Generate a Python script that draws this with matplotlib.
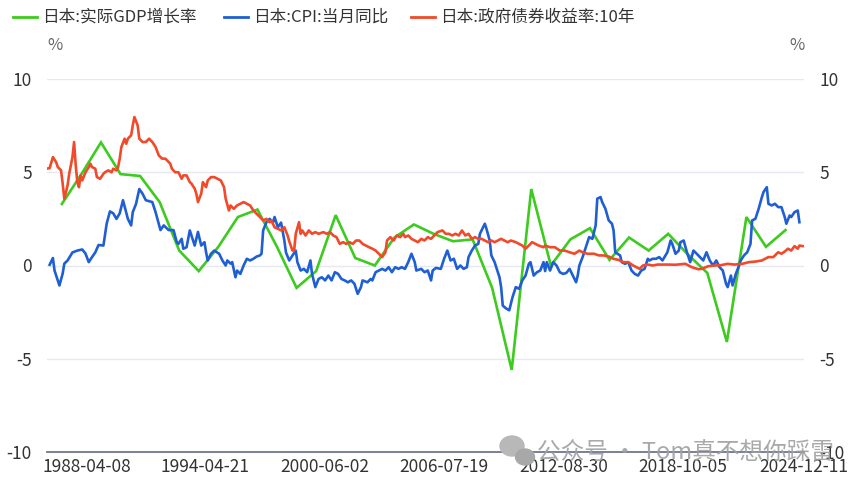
import matplotlib
matplotlib.use("Agg")
import matplotlib.pyplot as plt
from matplotlib.lines import Line2D
from matplotlib.patches import Ellipse
import numpy as np

plt.rcParams['font.family'] = ['Noto Sans CJK SC', 'DejaVu Sans']

# ---------------- data ----------------
legend_labels = ["日本:实际GDP增长率", "日本:CPI:当月同比", "日本:政府债券收益率:10年"]

gdp_years = list(range(1986, 2024))
gdp_vals = [3.3, 4.9, 6.6, 4.9, 4.8, 3.4, 0.8, -0.3, 1.0, 2.6,
            3.0, 1.0, -1.2, -0.3, 2.7, 0.4, 0.0, 1.5, 2.2, 1.7,
            1.3, 1.4, -1.2, -5.6, 4.1, 0.0, 1.4, 2.0, 0.3, 1.5,
            0.8, 1.7, 0.6, -0.4, -4.1, 2.6, 1.0, 1.9]

cpi_dates = [
    "1986-05", "1986-07", "1986-08", "1986-11", "1987-01", "1987-02", "1987-04", "1987-07", "1987-10",
    "1988-01", "1988-03", "1988-05", "1988-07", "1988-09", "1988-11", "1989-02", "1989-04", "1989-06",
    "1989-08", "1989-10", "1989-12", "1990-02", "1990-05", "1990-07", "1990-08", "1990-10", "1990-12",
    "1991-02", "1991-04", "1991-08", "1991-10", "1992-01", "1992-03", "1992-06", "1992-09", "1992-11",
    "1992-12", "1993-02", "1993-03", "1993-05", "1993-07", "1993-09", "1993-10", "1993-12", "1994-02",
    "1994-04", "1994-05", "1994-06", "1994-08", "1994-10", "1995-01", "1995-03", "1995-05", "1995-06",
    "1995-08", "1995-09", "1995-11", "1995-12", "1996-02", "1996-04", "1996-06", "1996-08", "1996-10",
    "1996-12", "1997-02", "1997-03", "1997-04", "1997-06", "1997-08", "1997-10", "1997-11", "1998-01",
    "1998-03", "1998-05", "1998-06", "1998-08", "1998-10", "1998-12", "1999-01", "1999-03", "1999-05",
    "1999-07", "1999-09", "1999-10", "1999-12", "2000-02", "2000-04", "2000-06", "2000-08", "2000-10",
    "2000-12", "2001-02", "2001-04", "2001-06", "2001-08", "2001-10", "2001-12", "2002-02", "2002-04",
    "2002-05", "2002-08", "2002-10", "2002-11", "2003-01", "2003-03", "2003-05", "2003-07", "2003-09",
    "2003-11", "2004-01", "2004-03", "2004-05", "2004-07", "2004-09", "2004-11", "2005-01", "2005-02",
    "2005-05", "2005-07", "2005-09", "2005-11", "2005-12", "2006-02", "2006-05", "2006-07", "2006-09",
    "2006-11", "2007-01", "2007-03", "2007-05", "2007-07", "2007-09", "2007-10", "2007-12", "2008-02",
    "2008-04", "2008-05", "2008-08", "2008-09", "2008-11", "2008-12", "2009-02", "2009-03", "2009-05",
    "2009-06", "2009-07", "2009-09", "2009-11", "2010-01", "2010-03", "2010-05", "2010-07", "2010-09",
    "2010-11", "2010-12", "2011-02", "2011-04", "2011-06", "2011-08", "2011-09", "2011-10", "2011-12",
    "2012-02", "2012-04", "2012-06", "2012-08", "2012-10", "2012-12", "2013-02", "2013-04", "2013-05",
    "2013-06", "2013-08", "2013-10", "2013-12", "2014-02", "2014-04", "2014-05", "2014-07", "2014-08",
    "2014-10", "2014-12", "2015-02", "2015-03", "2015-04", "2015-07", "2015-08", "2015-10", "2015-12",
    "2016-02", "2016-04", "2016-06", "2016-08", "2016-10", "2016-12", "2017-01", "2017-03", "2017-05",
    "2017-07", "2017-09", "2017-12", "2018-02", "2018-03", "2018-05", "2018-07", "2018-08", "2018-10",
    "2018-12", "2019-02", "2019-04", "2019-06", "2019-08", "2019-10", "2019-12", "2020-02", "2020-04",
    "2020-06", "2020-08", "2020-10", "2020-12", "2021-01", "2021-03", "2021-04", "2021-06", "2021-08",
    "2021-09", "2021-11", "2022-01", "2022-03", "2022-04", "2022-06", "2022-08", "2022-10", "2022-11",
    "2023-01", "2023-02", "2023-04", "2023-06", "2023-08", "2023-10", "2023-12", "2024-01", "2024-03",
    "2024-04", "2024-06", "2024-08", "2024-09"]
cpi_vals = [
    0.04, 0.4, -0.27, -1.07, -0.43, 0.1, 0.27, 0.7, 0.8,
    0.86, 0.64, 0.18, 0.45, 0.7, 1.1, 1.07, 2.25, 2.9,
    2.8, 2.5, 2.8, 3.5, 2.5, 2.15, 2.86, 3.3, 4.1,
    3.85, 3.5, 3.4, 2.86, 1.9, 2.15, 1.9, 1.9, 1.25,
    1.16, 1.43, 0.9, 0.98, 1.88, 1.34, 1.07, 1.8, 1.07,
    1.25, 0.7, 0.27, 0.63, 0.8, 0.63, 0.27, 0.0, 0.27,
    0.1, 0.18, -0.63, -0.27, -0.45, 0.0, 0.36, 0.27, 0.36,
    0.48, 0.54, 0.63, 1.88, 2.32, 2.5, 2.3, 2.6, 2.05,
    2.3, 1.34, 0.7, 0.27, 0.54, 0.8, 0.18, -0.27, -0.18,
    -0.36, 0.27, -0.45, -1.16, -0.72, -0.63, -0.8, -0.54, -0.8,
    -0.36, -0.45, -0.72, -0.8, -0.9, -0.8, -0.98, -1.52, -1.16,
    -0.8, -0.9, -0.72, -0.8, -0.36, -0.27, -0.18, -0.27, -0.09,
    -0.36, -0.09, -0.18, -0.09, -0.18, 0.18, 0.63, 0.18, -0.27,
    -0.18, -0.36, -0.27, -0.8, -0.27, -0.13, -0.18, 0.36, 0.8,
    0.27, 0.36, -0.18, 0.0, -0.18, -0.09, 0.45, 0.8, 1.07,
    1.16, 1.7, 2.24, 1.97, 1.34, 0.54, 0.18, -0.09, -0.63,
    -1.16, -2.15, -2.3, -2.4, -1.7, -1.16, -1.25, -0.8, -0.54,
    0.09, 0.18, -0.54, -0.36, -0.27, 0.18, -0.3, 0.18, -0.27,
    0.18, 0.0, -0.36, -0.45, -0.4, -0.18, -0.54, -0.9, -0.54,
    0.0, 0.45, 0.98, 1.52, 1.43, 2.15, 3.58, 3.67, 3.4,
    3.04, 2.42, 2.24, 1.88, 0.71, 0.54, 0.18, 0.09, 0.18,
    -0.27, -0.45, -0.54, -0.27, -0.18, 0.36, 0.27, 0.36, 0.36,
    0.45, 0.27, 0.71, 1.34, 1.16, 0.63, 0.8, 1.25, 1.34,
    0.71, 0.18, 0.8, 0.63, 0.45, 0.27, 0.71, 0.27, 0.0,
    0.27, -0.09, -0.27, -0.98, -1.16, -0.54, -1.07, -0.45, 0.0,
    0.27, 0.54, 0.71, 1.16, 2.42, 2.5, 3.04, 3.67, 3.94,
    4.2, 3.31, 3.22, 3.31, 3.13, 3.13, 2.6, 2.24, 2.68,
    2.6, 2.86, 2.95, 2.32]

bond_dates = [
    "1986-03", "1986-05", "1986-07", "1986-09", "1986-10", "1986-12", "1987-01", "1987-02", "1987-04",
    "1987-05", "1987-07", "1987-08", "1987-09", "1987-10", "1987-11", "1987-12", "1988-01", "1988-03",
    "1988-05", "1988-06", "1988-07", "1988-09", "1988-10", "1988-12", "1989-02", "1989-03", "1989-05",
    "1989-07", "1989-08", "1989-10", "1989-11", "1989-12", "1990-01", "1990-03", "1990-04", "1990-05",
    "1990-07", "1990-08", "1990-09", "1990-11", "1990-12", "1991-02", "1991-04", "1991-06", "1991-08",
    "1991-10", "1991-12", "1992-02", "1992-04", "1992-07", "1992-08", "1992-10", "1992-12", "1993-02",
    "1993-03", "1993-05", "1993-07", "1993-08", "1993-10", "1993-11", "1993-12", "1994-02", "1994-03",
    "1994-05", "1994-06", "1994-08", "1994-10", "1994-12", "1995-02", "1995-04", "1995-05", "1995-07",
    "1995-08", "1995-10", "1995-12", "1996-02", "1996-04", "1996-06", "1996-08", "1996-10", "1996-12",
    "1997-02", "1997-04", "1997-06", "1997-08", "1997-09", "1997-11", "1998-01", "1998-03", "1998-05",
    "1998-07", "1998-08", "1998-10", "1998-11", "1998-12", "1999-02", "1999-03", "1999-04", "1999-06",
    "1999-08", "1999-10", "1999-12", "2000-02", "2000-05", "2000-07", "2000-09", "2000-11", "2001-01",
    "2001-03", "2001-05", "2001-07", "2001-09", "2001-11", "2002-01", "2002-03", "2002-05", "2002-07",
    "2002-09", "2002-11", "2003-01", "2003-03", "2003-05", "2003-07", "2003-08", "2003-10", "2003-12",
    "2004-02", "2004-04", "2004-06", "2004-07", "2004-09", "2004-11", "2005-01", "2005-03", "2005-05",
    "2005-07", "2005-09", "2005-11", "2006-01", "2006-03", "2006-06", "2006-08", "2006-10", "2006-12",
    "2007-02", "2007-04", "2007-06", "2007-08", "2007-10", "2007-12", "2008-02", "2008-04", "2008-06",
    "2008-08", "2008-10", "2008-12", "2009-02", "2009-04", "2009-06", "2009-08", "2009-10", "2009-12",
    "2010-03", "2010-05", "2010-07", "2010-09", "2010-11", "2011-01", "2011-03", "2011-05", "2011-08",
    "2011-09", "2011-12", "2012-03", "2012-06", "2012-09", "2012-12", "2013-03", "2013-06", "2013-08",
    "2013-11", "2014-03", "2014-06", "2014-09", "2014-12", "2015-03", "2015-06", "2015-09", "2015-12",
    "2016-03", "2016-05", "2016-07", "2016-09", "2016-12", "2017-03", "2017-06", "2017-10", "2018-01",
    "2018-05", "2018-11", "2019-03", "2019-07", "2019-09", "2020-01", "2020-05", "2020-09", "2021-01",
    "2021-05", "2021-10", "2022-02", "2022-06", "2022-10", "2023-02", "2023-05", "2023-08", "2023-10",
    "2023-12", "2024-02", "2024-04", "2024-06", "2024-08", "2024-09", "2024-11"]
bond_vals = [
    5.19, 5.22, 5.81, 5.54, 5.28, 5.1, 4.39, 3.58, 4.29,
    4.92, 5.81, 6.62, 5.37, 4.47, 4.2, 4.83, 4.56, 5.0,
    5.28, 5.46, 5.28, 5.19, 4.74, 4.65, 4.92, 5.0, 5.1,
    5.0, 5.19, 5.1, 5.28, 5.73, 6.35, 6.8, 6.53, 6.8,
    6.98, 7.51, 7.96, 7.51, 6.8, 6.62, 6.62, 6.8, 6.62,
    6.35, 5.9, 5.73, 5.73, 5.46, 5.19, 5.0, 5.0, 4.65,
    4.83, 4.83, 4.47, 4.39, 4.12, 3.85, 3.4, 3.85, 4.47,
    4.2, 4.56, 4.74, 4.74, 4.65, 4.56, 4.2, 3.58, 2.95,
    3.22, 3.04, 3.22, 3.31, 3.4, 3.31, 3.22, 2.95, 2.77,
    2.6, 2.42, 2.5, 2.32, 2.42, 2.05, 1.97, 1.88, 2.05,
    1.61, 1.3, 0.8, 0.8, 1.7, 2.32, 1.7, 1.88, 1.61,
    1.88, 1.7, 1.79, 1.7, 1.79, 1.7, 1.79, 1.61, 1.52,
    1.16, 1.25, 1.16, 1.25, 1.16, 1.34, 1.34, 1.16, 1.07,
    0.98, 0.9, 0.8, 0.63, 0.45, 0.71, 1.34, 1.52, 1.34,
    1.61, 1.52, 1.7, 1.52, 1.61, 1.43, 1.34, 1.25, 1.43,
    1.34, 1.52, 1.43, 1.61, 1.79, 1.88, 1.7, 1.7, 1.61,
    1.7, 1.61, 1.88, 1.61, 1.7, 1.43, 1.52, 1.43, 1.43,
    1.34, 1.25, 1.34, 1.25, 1.34, 1.43, 1.34, 1.25, 1.34,
    1.25, 1.16, 1.07, 0.9, 1.07, 1.25, 1.16, 1.07, 0.98,
    1.07, 0.98, 0.98, 0.8, 0.8, 0.71, 0.63, 0.8, 0.71,
    0.63, 0.63, 0.54, 0.54, 0.48, 0.36, 0.3, 0.18, 0.18,
    0.0, -0.09, -0.18, 0.0, 0.05, 0.0, 0.05, 0.05, 0.05,
    0.04, 0.09, -0.09, -0.2, -0.18, -0.04, 0.0, 0.02, 0.09,
    0.05, 0.09, 0.18, 0.21, 0.27, 0.45, 0.45, 0.71, 0.63,
    0.75, 0.9, 0.8, 1.04, 0.9, 1.07, 1.04]

x_tick_labels = ["1988-04-08", "1994-04-21", "2000-06-02", "2006-07-19",
                 "2012-08-30", "2018-10-05", "2024-12-11"]
y_ticks = [-10, -5, 0, 5, 10]

colors = ["#3ccb1e", "#1f5fd3", "#f04a2a"]


def month_to_year(s):
    y, m = s.split("-")[:2]
    return int(y) + (int(m) - 0.5) / 12.0


def day_to_year(s):
    y, m, d = (int(v) for v in s.split("-"))
    return y + (m - 1) / 12.0 + (d - 1) / 365.0


gdp_t = np.array(gdp_years) + 1.0          # annual values stamped at year end
cpi_t = np.array([month_to_year(s) for s in cpi_dates])
bond_t = np.array([month_to_year(s) for s in bond_dates])
tick_t = [day_to_year(s) for s in x_tick_labels]

# ---------------- figure ----------------
W, H = 865, 484
fig = plt.figure(figsize=(W / 100, H / 100), dpi=100)
fig.patch.set_facecolor("white")

ax_l, ax_r, ax_t, ax_b = 47, 804, 79, 452
ax = fig.add_axes([ax_l / W, 1 - ax_b / H, (ax_r - ax_l) / W, (ax_b - ax_t) / H])

lw = 1.9
ax.plot(gdp_t, gdp_vals, color=colors[0], lw=lw, solid_joinstyle="miter", zorder=3)
ax.plot(cpi_t, cpi_vals, color=colors[1], lw=lw, zorder=4)
ax.plot(bond_t, bond_vals, color=colors[2], lw=lw, zorder=5)

ax.set_xlim(1986.24, 2024.92)
ax.set_ylim(-10, 10)

for sp in ax.spines.values():
    sp.set_visible(False)
for yv in y_ticks[1:]:
    ax.axhline(yv, color="#e6e9f2", lw=1.0, zorder=1)
ax.axhline(-10, color="#6e7591", lw=1.3, zorder=2, clip_on=False)

tick_color = "#333333"
ax.set_yticks(y_ticks)
ax.set_yticklabels([str(v) for v in y_ticks])
ax.tick_params(axis="y", length=0, pad=11, labelsize=12.5, labelcolor=tick_color)
ax.set_xticks(tick_t)
ax.set_xticklabels(x_tick_labels)
ax.tick_params(axis="x", length=0, pad=4, labelsize=12.5, labelcolor=tick_color)

ax2 = ax.twinx()
ax2.set_ylim(-10, 10)
for sp in ax2.spines.values():
    sp.set_visible(False)
ax2.set_yticks(y_ticks)
ax2.set_yticklabels([str(v) for v in y_ticks])
ax2.tick_params(axis="y", length=0, pad=11, labelsize=12.5, labelcolor=tick_color)

# unit labels
fig.text(55 / W, 1 - 45 / H, "%", ha="center", va="center", fontsize=12, color="#666666")
fig.text(797 / W, 1 - 45 / H, "%", ha="center", va="center", fontsize=12, color="#666666")

# legend
leg_y = 1 - 17 / H
items = [(13, 37, 42), (224, 248, 253), (411, 435, 440)]
for (x0, x1, xt), lab, c in zip(items, legend_labels, colors):
    fig.add_artist(Line2D([x0 / W, x1 / W], [leg_y, leg_y], color=c, lw=2.0,
                          transform=fig.transFigure))
    fig.text(xt / W, leg_y, lab, ha="left", va="center", fontsize=12, color="#333333")

# watermark (overlaps the axis, as in the source image)
wm_y = 452
fig.add_artist(Ellipse((512 / W, 1 - 446 / H), 24 / W, 20 / H, color="#b8b8b8",
                       transform=fig.transFigure, zorder=10))
fig.add_artist(Ellipse((525 / W, 1 - 457 / H), 19 / W, 16 / H, color="#a8a8a8",
                       transform=fig.transFigure, zorder=11))
fig.text(537 / W, 1 - wm_y / H, "公众号 · Tom真不想你踩雷", ha="left", va="center",
         fontsize=17, color="#a0a0a0", alpha=0.9, zorder=12)

fig.savefig("out.png", dpi=100, facecolor="white")
